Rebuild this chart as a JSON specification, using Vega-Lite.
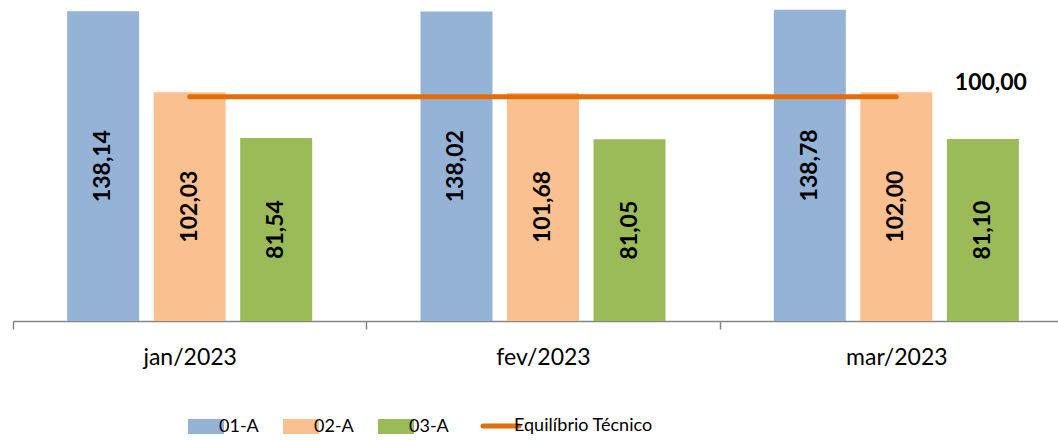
{
  "$schema": "https://vega.github.io/schema/vega-lite/v6.json",
  "width": 1060,
  "height": 314,
  "padding": {"left": 12, "top": 7, "right": 0, "bottom": 0},
  "config": {
    "view": {"stroke": null},
    "locale": {"number": {"decimal": ",", "thousands": ".", "grouping": [3], "currency": ["R$", ""]}},
    "font": "Lato"
  },
  "datasets": {
    "bars": [
      {"month": "jan/2023", "series": "01-A", "value": 138.14},
      {"month": "jan/2023", "series": "02-A", "value": 102.03},
      {"month": "jan/2023", "series": "03-A", "value": 81.54},
      {"month": "fev/2023", "series": "01-A", "value": 138.02},
      {"month": "fev/2023", "series": "02-A", "value": 101.68},
      {"month": "fev/2023", "series": "03-A", "value": 81.05},
      {"month": "mar/2023", "series": "01-A", "value": 138.78},
      {"month": "mar/2023", "series": "02-A", "value": 102.00},
      {"month": "mar/2023", "series": "03-A", "value": 81.10}
    ],
    "line": [
      {"month": "jan/2023", "eq": 100},
      {"month": "fev/2023", "eq": 100},
      {"month": "mar/2023", "eq": 100}
    ],
    "lineLabel": [
      {"month": "mar/2023", "eq": 100}
    ]
  },
  "encoding": {
    "x": {
      "field": "month", "type": "nominal", "sort": ["jan/2023", "fev/2023", "mar/2023"],
      "scale": {"paddingInner": 0, "paddingOuter": 0},
      "axis": {
        "title": null, "labelAngle": 0, "labelFont": "Lato", "labelFontSize": 23, "labelColor": "#000000",
        "labelPadding": 17, "domainColor": "#868686", "domainWidth": 1.5, "tickColor": "#868686",
        "tickWidth": 1.5, "tickSize": 8, "tickBand": "extent", "grid": false
      }
    }
  },
  "layer": [
    {
      "data": {"name": "bars"},
      "mark": {"type": "bar"},
      "encoding": {
        "xOffset": {"field": "series", "type": "nominal", "scale": {"paddingInner": 0.168, "paddingOuter": 0.626}},
        "y": {"field": "value", "type": "quantitative", "scale": {"domain": [0, 140]}, "axis": null},
        "color": {
          "field": "series", "type": "nominal",
          "scale": {"domain": ["01-A", "02-A", "03-A", "Equilíbrio Técnico"], "range": ["#95B3D7", "#FAC090", "#9BBB59", "#E46C0A"]},
          "legend": {
            "title": null, "orient": "none", "direction": "horizontal", "legendX": 184, "legendY": 410,
            "padding": 0, "labelFont": "Lato", "labelFontSize": 18, "labelColor": "#000000", "labelOffset": 4,
            "columnPadding": 24, "symbolSize": 1296,
            "encode": {
              "symbols": {
                "update": {
                  "shape": {"signal": "datum.value === 'Equilíbrio Técnico' ? 'stroke' : 'M-1,-0.42H1V0.42H-1Z'"},
                  "fill": {"signal": "datum.value === 'Equilíbrio Técnico' ? 'transparent' : scale('color', datum.value)"},
                  "stroke": {"signal": "datum.value === 'Equilíbrio Técnico' ? scale('color', datum.value) : 'transparent'"},
                  "strokeWidth": {"signal": "datum.value === 'Equilíbrio Técnico' ? 5 : 0"},
                  "strokeCap": {"value": "round"},
                  "opacity": {"value": 1},
                  "fillOpacity": {"value": 1},
                  "size": {"value": 1296}
                }
              }
            }
          }
        }
      }
    },
    {
      "data": {"name": "bars"},
      "transform": [{"calculate": "datum.value / 2", "as": "mid"}],
      "mark": {"type": "text", "angle": 270, "font": "Lato", "fontSize": 23, "fontWeight": "bold", "color": "#000000", "align": "center", "baseline": "middle"},
      "encoding": {
        "xOffset": {"field": "series", "type": "nominal"},
        "y": {"field": "mid", "type": "quantitative"},
        "text": {"field": "value", "type": "quantitative", "format": ".2f"}
      }
    },
    {
      "data": {"name": "line"},
      "mark": {"type": "line", "strokeWidth": 5, "strokeCap": "round"},
      "encoding": {
        "y": {"field": "eq", "type": "quantitative"},
        "color": {"datum": "Equilíbrio Técnico"}
      }
    },
    {
      "data": {"name": "lineLabel"},
      "mark": {"type": "text", "font": "Lato", "fontSize": 23, "fontWeight": "bold", "color": "#000000", "align": "center", "baseline": "middle", "dx": 8, "dy": -14},
      "encoding": {
        "xOffset": {"datum": "03-A"},
        "y": {"field": "eq", "type": "quantitative"},
        "text": {"field": "eq", "type": "quantitative", "format": ".2f"}
      }
    }
  ]
}
